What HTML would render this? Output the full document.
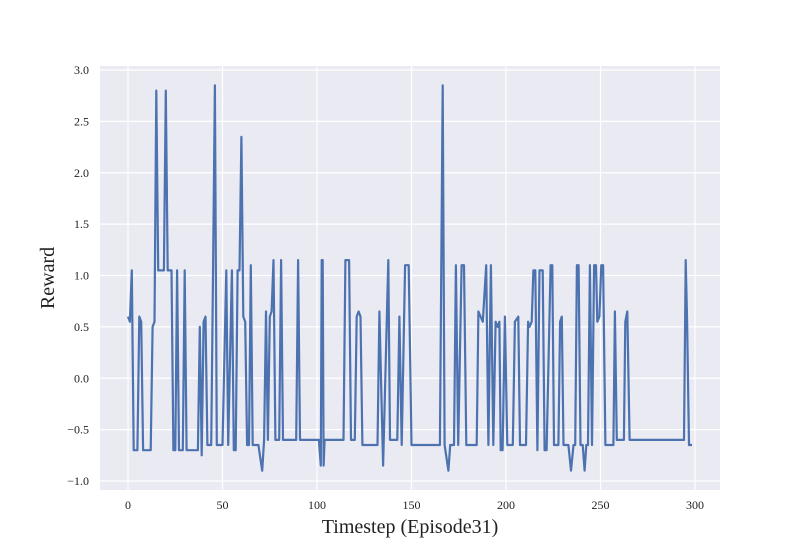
<!DOCTYPE html>
<html><head><meta charset="utf-8"><style>
body{margin:0;background:#fff;}
svg text{font-family:"Liberation Serif",serif;fill:#222;}
</style></head><body>
<svg id="chart" width="800" height="550"></svg>
<script>
const xs=[0,1,2,3,5,6,7,8,12,13,
14,15,16,19,20,21,23,24,25,26,
27,29,30,31,37,38,39,40,41,42,
44,45,46,47,50,52,53,55,56,57,
58,59,60,61,62,63,64,65,66,69,
71,72,73,74,75,76,77,78,80,81,
82,89,90,91,101,102,102.5,103,103.5,104,
114,115,117,118,120,121,122,123,124,132,
133,135,137.7,138.6,142.5,143.6,144.8,146.6,148.5,150,
165,166.5,167.5,169.5,170.5,172.5,173.5,174.7,176.5,177.8,
179,184.5,185.4,187.7,189.5,190.7,192,193.3,194.5,195.6,
196.5,197.2,198.2,199.4,200.7,203.6,204.7,206.5,207.4,210.6,
211.7,212.4,213.6,214.5,215.5,216.6,217.7,219.4,220.4,221.5,
223.6,224.5,225.4,227.7,228.6,229.5,230.4,233,234.4,235.7,
236.6,237.5,238.4,239.4,240.6,241.6,242.5,243.4,244.4,245.5,
246.6,247.6,248.3,249.4,250.4,251.4,252.6,256.8,257.6,258.6,
262.4,263.1,264.2,265.4,294.2,295.1,295.8,296.8,298.4];
const ys=[0.6,0.55,1.05,-0.7,-0.7,0.6,0.55,-0.7,-0.7,0.5,
0.55,2.8,1.05,1.05,2.8,1.05,1.05,-0.7,-0.7,1.05,
-0.7,-0.7,1.05,-0.7,-0.7,0.5,-0.75,0.55,0.6,-0.65,
-0.65,1.1,2.85,-0.65,-0.65,1.05,-0.65,1.05,-0.7,-0.7,
1.05,1.05,2.35,0.6,0.55,-0.65,-0.65,1.1,-0.65,-0.65,
-0.9,-0.6,0.65,-0.6,0.6,0.65,1.15,-0.6,-0.6,1.15,
-0.6,-0.6,1.15,-0.6,-0.6,-0.85,1.15,1.15,-0.85,-0.6,
-0.6,1.15,1.15,-0.6,-0.6,0.6,0.65,0.6,-0.65,-0.65,
0.65,-0.85,1.15,-0.6,-0.6,0.6,-0.65,1.1,1.1,-0.65,
-0.65,2.85,-0.65,-0.9,-0.65,-0.65,1.1,-0.65,1.1,1.1,
-0.65,-0.65,0.65,0.55,1.1,-0.65,1.1,-0.65,0.55,0.5,
0.55,-0.7,-0.7,0.6,-0.65,-0.65,0.55,0.6,-0.65,-0.65,
0.55,0.5,0.55,1.05,1.05,-0.7,1.05,1.05,-0.7,-0.7,
1.1,1.1,-0.65,-0.65,0.55,0.6,-0.65,-0.65,-0.9,-0.65,
-0.65,1.1,1.1,-0.65,-0.65,-0.9,-0.65,-0.65,1.1,-0.65,
1.1,1.1,0.55,0.6,1.1,1.1,-0.65,-0.65,0.65,-0.6,
-0.6,0.55,0.65,-0.6,-0.6,1.15,0.55,-0.65,-0.65];
const xTicks=[0,50,100,150,200,250,300];
const yTicks=[-1.0,-0.5,0.0,0.5,1.0,1.5,2.0,2.5,3.0];
const svg=document.getElementById('chart');
const NS='http://www.w3.org/2000/svg';
const L=100,R=720,T=66,B=490;
const X=v=>128+v*(695-128)/300;
const Y=v=>481-(v+1)*(481-70)/4;
function mk(tag,attrs){const e=document.createElementNS(NS,tag);for(const k in attrs)e.setAttribute(k,attrs[k]);svg.appendChild(e);return e;}
const bg=mk('rect',{x:L,y:T,width:R-L,height:B-T,fill:'#eaeaf2'});


xTicks.forEach(t=>{
  const g=mk('line',{x1:X(t),x2:X(t),y1:T,y2:B,stroke:'#fff','stroke-width':1.2});
  
  
  const tx=mk('text',{x:X(t),y:B+19,'text-anchor':'middle','font-size':12});
  tx.textContent=t;
  
  
});
yTicks.forEach(t=>{
  const g=mk('line',{x1:L,x2:R,y1:Y(t),y2:Y(t),stroke:'#fff','stroke-width':1.2});
  
  
  const tx=mk('text',{x:L-11,y:Y(t)+4,'text-anchor':'end','font-size':12});
  tx.textContent=(t<0?'\u2212'+Math.abs(t).toFixed(1):t.toFixed(1));
  
  
});
const n=Math.min(xs.length,ys.length);
const pts=[];
for(let i=0;i<n;i++)pts.push(X(xs[i]).toFixed(1)+','+Y(ys[i]).toFixed(1));
const line=mk('polyline',{points:pts.join(' '),fill:'none',stroke:'#4c72b0','stroke-width':2.2,'stroke-linejoin':'round'});


const xl=mk('text',{x:410,y:533,'text-anchor':'middle','font-size':20});
xl.textContent='Timestep (Episode31)';


const yl=mk('text',{x:0,y:0,'text-anchor':'middle','font-size':20,transform:'translate(54,278) rotate(-90)'});
yl.textContent='Reward';


</script>
</body></html>
